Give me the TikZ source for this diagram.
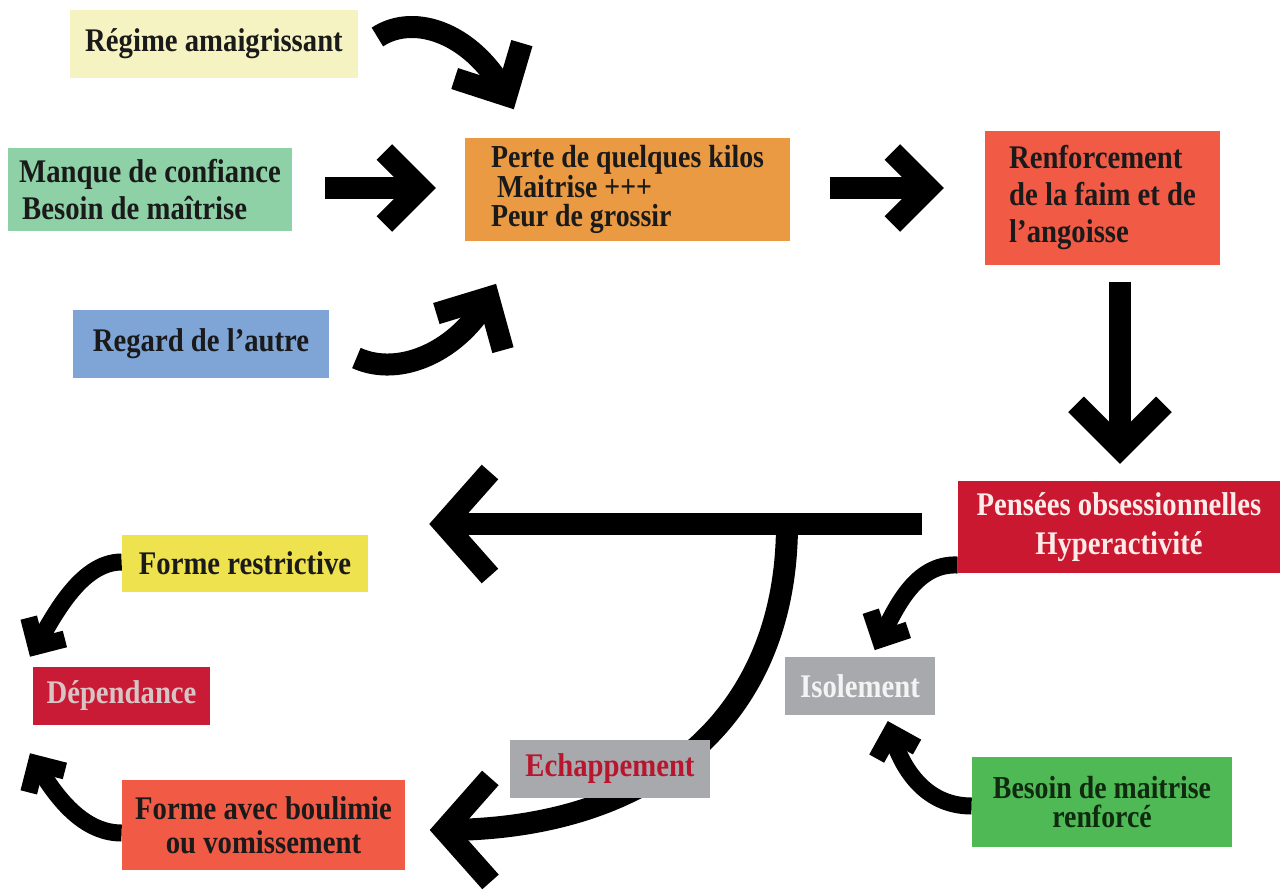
\documentclass[tikz,border=0pt]{standalone}
\usepackage{fontspec}
\setmainfont{Liberation Serif}[FakeStretch=0.87]
\usetikzlibrary{calc,decorations.markings}

\definecolor{cReg}{HTML}{F6F3C2}
\definecolor{cMan}{HTML}{8ED1A6}
\definecolor{cRga}{HTML}{7FA5D7}
\definecolor{cPer}{HTML}{E99A42}
\definecolor{cRen}{HTML}{F15B46}
\definecolor{cPen}{HTML}{C9182F}
\definecolor{cGray}{HTML}{A8A9AC}
\definecolor{cBes}{HTML}{4EB955}
\definecolor{cFre}{HTML}{EEE24E}
\definecolor{cDep}{HTML}{C91B35}
\definecolor{tDark}{HTML}{1A1A1A}
\definecolor{tPen}{HTML}{FDEBEA}
\definecolor{tDep}{HTML}{D7C4C4}
\definecolor{tIso}{HTML}{F4F4F4}
\definecolor{tEch}{HTML}{B8152F}
\definecolor{tBes}{HTML}{102A10}

\pgfdeclarelayer{under}
\pgfsetlayers{under,main}

\tikzset{
  box/.style={rectangle, inner sep=0pt, text=tDark,
    font=\fontsize{16.5}{18.5}\selectfont\bfseries},
  % chevron head: line width, back length, half spread
  chev/.style n args={3}{postaction={decorate, decoration={markings,
      mark=at position 0.998 with {\draw[black, line width=#1, line join=miter,
        miter limit=10, line cap=butt] (-#2,#3) -- (0,0) -- (-#2,-#3);}}}},
  shaft/.style={draw=black, line cap=butt},
  bigarrow/.style={shaft, line width=11pt, chev={11pt}{22pt}{22pt}},
  widearrow/.style={shaft, line width=11pt, chev={11pt}{23pt}{26pt}},
  midarrow/.style={shaft, line width=11pt, chev={11pt}{18pt}{18pt}},
  bentarrow/.style={shaft, line width=11pt, chev={11pt}{19.5pt}{19pt}},
  smallarrow/.style={shaft, line width=8.5pt, chev={8.5pt}{10.5pt}{10.5pt}},
}

\begin{document}
\begin{tikzpicture}[x=0.5pt, y=-0.5pt]
\useasboundingbox (0,0) rectangle (1285,890);

% boxes
\node[box, fill=cReg, minimum width=144pt, minimum height=34pt] (reg) at (214,44) {Régime amaigrissant};
\node[box, fill=cMan, minimum width=142pt, minimum height=41.5pt, align=left] (man) at (150,189.5)
  {Manque de confiance\\\hspace{1.5pt}Besoin de maîtrise};
\node[box, fill=cRga, minimum width=128pt, minimum height=34pt] (rga) at (201,344) {Regard de l’autre};
\node[box, fill=cPer, minimum width=162.5pt, minimum height=51.5pt, align=left,
  font=\fontsize{16}{14.6}\selectfont\bfseries] (per) at (627.5,189.5)
  {Perte de quelques kilos\\\hspace{3pt}Maitrise +++\\Peur de grossir};
\node[box, fill=cRen, minimum width=117.5pt, minimum height=67pt, align=left] (ren) at (1102.5,198)
  {Renforcement\\de la faim et de\\l’angoisse};
\node[box, fill=cPen, text=tPen, minimum width=161pt, minimum height=46pt, align=center,
  font=\fontsize{16.5}{19.5}\selectfont\bfseries] (pen) at (1119,527)
  {Pensées obsessionnelles\\Hyperactivité};
\node[box, fill=cGray, text=tIso, minimum width=75pt, minimum height=29pt] (iso) at (860,686) {Isolement};
\node[box, fill=cBes, text=tBes, minimum width=130pt, minimum height=45pt, align=center,
  font=\fontsize{16}{14.5}\selectfont\bfseries] (bes) at (1102,802)
  {Besoin de maitrise\\renforcé};
\node[box, fill=cFre, minimum width=123pt, minimum height=28.5pt] (fre) at (245,563.5) {Forme restrictive};
\node[box, fill=cDep, text=tDep, minimum width=88.5pt, minimum height=29pt] (dep) at (121.5,696) {Dépendance};
\node[box, fill=cRen, minimum width=141.5pt, minimum height=45pt, align=center,
  font=\fontsize{16.5}{17}\selectfont\bfseries] (fbo) at (263.5,825)
  {Forme avec boulimie\\ou vomissement};
\node[box, fill=cGray, text=tEch, minimum width=100pt, minimum height=29pt] (ech) at (610,769) {Echappement};

% free ends on the long horizontal arrow
\coordinate (lt) at (443,524);
\coordinate (br) at (787,524);

% arrows into the first box
\draw[bentarrow] ($(reg.east)+(19,-7)$) .. controls +(38,-25) and +(-32,-61) .. ($(per.north west)+(42,-42)$);
\draw[midarrow] ($(man.east)+(33,-1.5)$) -- ($(per.west)+(-44,-1.5)$);
\draw[bentarrow] ($(rga.east)+(27,14)$) .. controls +(44,20) and +(-29,53) .. ($(per.south west)+(24,56)$);

% main chain
\draw[midarrow] ($(per.east)+(40,-1.5)$) -- ($(ren.west)+(-56,-10)$);
\draw[bigarrow] ($(ren.south)+(17.5,17)$) -- ($(pen.north)+(1,-32)$);
\draw[widearrow] ($(pen.west)+(-36,-3)$) -- (lt);

% branch passing under the Echappement box
\begin{pgfonlayer}{under}
\draw[widearrow] (br) .. controls +(0,196) and +(207,0) .. ($(fbo.east)+(38,5)$);
\end{pgfonlayer}

% small curved arrows
\draw[smallarrow] ($(pen.west)+(0,38)$) .. controls +(-43,-2) and +(15,-30) .. ($(iso.north)+(20,-17)$);
\draw[smallarrow] ($(bes.west)+(0,4)$) .. controls +(-47,0) and +(10,35) .. ($(iso.south)+(31,17)$);
\draw[smallarrow] ($(fre.west)+(0,-1.5)$) .. controls +(-42,0) and +(16,-27) .. ($(dep.north)+(-85.5,-20)$);
\draw[smallarrow] ($(fbo.west)+(0,8)$) .. controls +(-42,0) and +(16,27) .. ($(dep.south)+(-85.5,38)$);
\end{tikzpicture}
\end{document}
